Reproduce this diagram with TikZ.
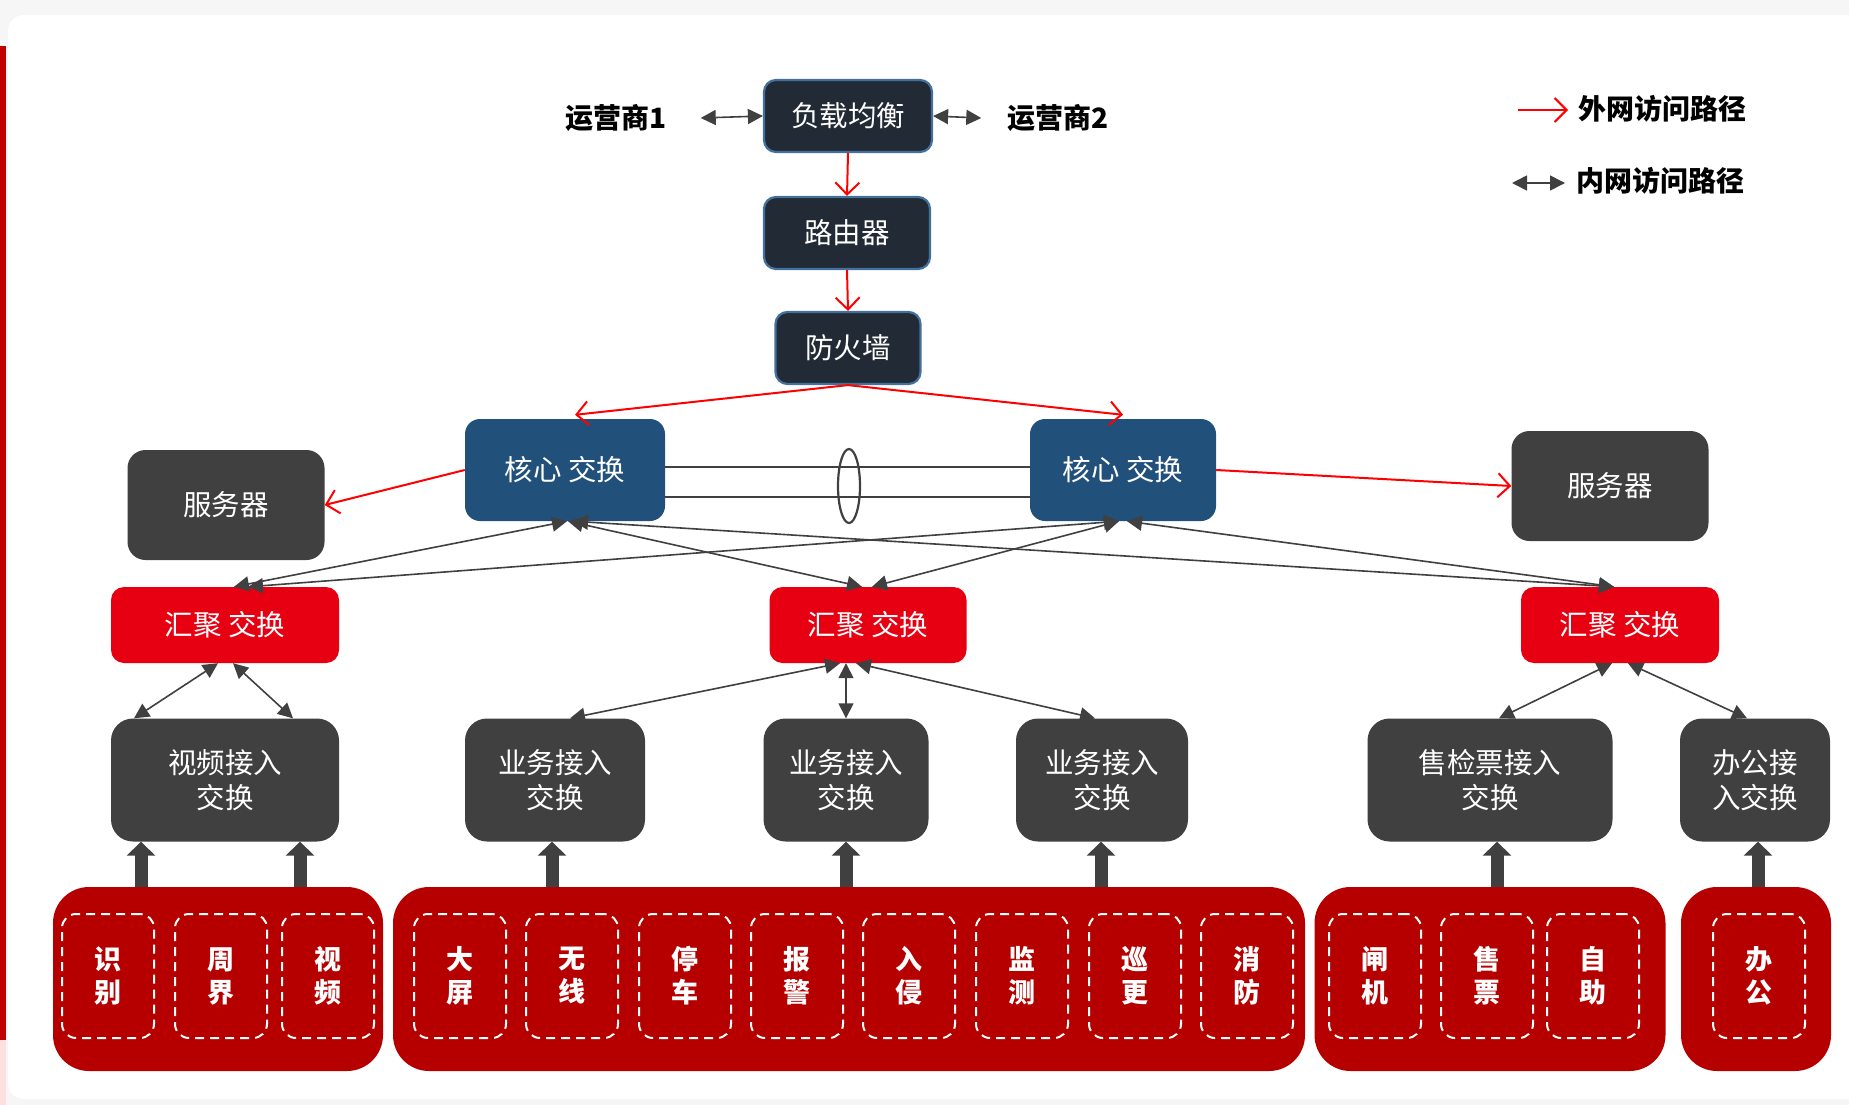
\documentclass[tikz,border=0pt]{standalone}
\usepackage{fontspec}
\setmainfont{Noto Sans CJK SC}
\newfontfamily\cjkfont{Noto Sans CJK SC}
\usetikzlibrary{arrows.meta,shapes.geometric,calc}
\definecolor{topfill}{RGB}{34,42,53}
\definecolor{topedge}{RGB}{65,113,156}
\definecolor{corefill}{RGB}{33,80,122}
\definecolor{srvfill}{RGB}{64,64,64}
\definecolor{aggfill}{RGB}{230,0,18}
\definecolor{grpfill}{RGB}{182,0,0}
\definecolor{lgray}{RGB}{64,64,64}
\definecolor{bgc}{RGB}{246,246,246}
\definecolor{redbar}{RGB}{192,0,0}
\definecolor{arrred}{RGB}{255,0,0}
\tikzset{
  txt/.style={text=white, inner sep=0pt, font=\cjkfont\fontsize{28.5pt}{35pt}\selectfont, align=center},
  topbox/.style={txt, draw=topedge, line width=2.2pt, fill=topfill, rounded corners=12pt, minimum height=72pt},
  corebox/.style={txt, fill=corefill, rounded corners=15pt, minimum height=102pt},
  srvbox/.style={txt, fill=srvfill, rounded corners=18pt, minimum height=110pt, minimum width=197pt},
  aggbox/.style={txt, fill=aggfill, rounded corners=13pt, minimum height=76pt},
  accbox/.style={txt, fill=srvfill, rounded corners=22pt, minimum height=123pt},
  grpbox/.style={fill=grpfill, rounded corners=36pt, minimum height=184pt, inner sep=0pt},
  dbox/.style={draw=white, line width=2pt, dash pattern=on 9pt off 6pt, rounded corners=14pt,
     minimum width=92pt, minimum height=124pt, text=white, inner sep=0pt, align=center,
     font=\cjkfont\bfseries\fontsize{27pt}{33pt}\selectfont},
  blabel/.style={text=black, inner sep=0pt, font=\cjkfont\bfseries\fontsize{28pt}{34pt}\selectfont},
  redarr/.style={draw=arrred, line width=2pt, -{Straight Barb[length=12pt,width=24pt,line width=2pt]}},
  grayarr/.style={draw=lgray, line width=1.6pt, {Triangle[length=15pt,width=15pt]}-{Triangle[length=15pt,width=15pt]}},
  thickarr/.style={draw=lgray, line width=13pt, -{Triangle[length=14pt,width=28pt]}},
  linkline/.style={draw=lgray, line width=2.2pt},
}
\begin{document}
\begin{tikzpicture}[x=1pt,y=-1pt]
\useasboundingbox (0,0) rectangle (1849,1105);
\fill[bgc] (0,0) rectangle (1849,1105);
\fill[white, rounded corners=16pt] (8,15) rectangle (1880,1099);
\fill[redbar] (0,46) rectangle (6,1040);
\fill[red!12] (0,1040) rectangle (6,1105);

% top chain
\node[topbox, minimum width=168pt] (lb) at (848,116) {负载均衡};
\node[topbox, minimum width=166pt] (rt) at (847,233) {路由器};
\node[topbox, minimum width=145pt] (fw) at (848,348) {防火墙};
\node[blabel] (isp1) at (616,118) {运营商1};
\node[blabel] (isp2) at (1058,118) {运营商2};
\draw[grayarr] ([xshift=34pt]isp1.east) -- (lb.west);
\draw[grayarr] (lb.east) -- ([xshift=-26pt]isp2.west);
\draw[redarr] (lb.south) -- (rt.north);
\draw[redarr] (rt.south) -- (fw.north);

% legend
\node[blabel, anchor=west] (leg1) at (1578,109) {外网访问路径};
\node[blabel, anchor=west] (leg2) at (1576,181) {内网访问路径};
\coordinate (leg1s) at (1518,110);
\coordinate (leg2s) at (1512,183);
\draw[redarr] (leg1s) -- ([xshift=-10pt,yshift=-1pt]leg1.west);
\draw[grayarr] (leg2s) -- ([xshift=-11pt,yshift=-2pt]leg2.west);

% core
\node[corebox, minimum width=200pt] (coreL) at (565,470) {核心 交换};
\node[corebox, minimum width=186pt] (coreR) at (1123,470) {核心 交换};
\draw[linkline] ([yshift=3pt]coreL.east) -- ([yshift=3pt]coreR.west);
\draw[linkline] ([yshift=-27pt]coreL.east) -- ([yshift=-27pt]coreR.west);
\node[draw=lgray, line width=2.2pt, ellipse, minimum width=22pt, minimum height=74pt, inner sep=0pt] (lag) at (849,486) {};

% servers
\node[srvbox] (srvL) at (226,505) {服务器};
\node[srvbox] (srvR) at (1610,486) {服务器};

\draw[redarr] (fw.south) -- ([xshift=10pt,yshift=4pt]coreL.north);
\draw[redarr] (fw.south) -- ([yshift=4pt]coreR.north);
\draw[redarr] (coreL.west) -- (srvL.east);
\draw[redarr] (coreR.east) -- (srvR.west);

% aggregation
\node[aggbox, minimum width=228pt] (aggL) at (225,625) {汇聚 交换};
\node[aggbox, minimum width=197pt] (aggM) at (868,625) {汇聚 交换};
\node[aggbox, minimum width=198pt] (aggR) at (1620,625) {汇聚 交换};

\draw[grayarr] ([xshift=2pt]coreL.south) -- ([xshift=9pt]aggL.north);
\draw[grayarr] ([xshift=3pt]coreL.south) -- ([xshift=-6pt]aggM.north);
\draw[grayarr] ([xshift=8pt]coreL.south) -- ([xshift=-6pt]aggR.north);
\draw[grayarr] ([xshift=-4pt]coreR.south) -- ([xshift=23pt]aggL.north);
\draw[grayarr] ([xshift=-4pt]coreR.south) -- ([xshift=4pt]aggM.north);
\draw[grayarr] ([xshift=4pt]coreR.south) -- ([xshift=-6pt]aggR.north);

% access
\node[accbox, minimum width=228pt] (accV) at (225,780) {视频接入\\交换};
\node[accbox, minimum width=180pt] (accB1) at (555,780) {业务接入\\交换};
\node[accbox, minimum width=165pt] (accB2) at (846,780) {业务接入\\交换};
\node[accbox, minimum width=172pt] (accB3) at (1102,780) {业务接入\\交换};
\node[accbox, minimum width=245pt] (accT) at (1490,780) {售检票接入\\交换};
\node[accbox, minimum width=150pt] (accO) at (1755,780) {办公接\\入交换};

\draw[grayarr] ([xshift=-7pt]aggL.south) -- ([xshift=-91pt]accV.north);
\draw[grayarr] ([xshift=8pt]aggL.south) -- ([xshift=68pt]accV.north);
\draw[grayarr] ([xshift=-28pt]aggM.south) -- ([xshift=15pt]accB1.north);
\draw[grayarr] ([xshift=-22pt]aggM.south) -- (accB2.north);
\draw[grayarr] ([xshift=-12pt]aggM.south) -- ([xshift=-7pt]accB3.north);
\draw[grayarr] ([xshift=-8pt]aggR.south) -- ([xshift=9pt]accT.north);
\draw[grayarr] ([xshift=8pt]aggR.south) -- ([xshift=-8pt]accO.north);

% groups
\node[grpbox, minimum width=330pt] (g1) at (218,979) {};
\node[grpbox, minimum width=912pt] (g2) at (849,979) {};
\node[grpbox, minimum width=351pt] (g3) at (1490,979) {};
\node[grpbox, minimum width=150pt] (g4) at (1756,979) {};

\draw[thickarr] ($(g1.north -| accV.south)+(-84,0)$) -- ($(accV.south)+(-84,0)$);
\draw[thickarr] ($(g1.north -| accV.south)+(75,0)$) -- ($(accV.south)+(75,0)$);
\draw[thickarr] ($(g2.north -| accB1.south)+(-3,0)$) -- ($(accB1.south)+(-3,0)$);
\draw[thickarr] (g2.north -| accB2.south) -- (accB2.south);
\draw[thickarr] ($(g2.north -| accB3.south)+(-1,0)$) -- ($(accB3.south)+(-1,0)$);
\draw[thickarr] ($(g3.north -| accT.south)+(7,0)$) -- ($(accT.south)+(7,0)$);
\draw[thickarr] ($(g4.north -| accO.south)+(3,0)$) -- ($(accO.south)+(3,0)$);

% dashed items
\node[dbox] (d1) at (108,976) {识\\别};
\node[dbox] (d2) at (221,976) {周\\界};
\node[dbox] (d3) at (328,976) {视\\频};
\node[dbox] (d4) at (460,976) {大\\屏};
\node[dbox] (d5) at (572,976) {无\\线};
\node[dbox] (d6) at (685,976) {停\\车};
\node[dbox] (d7) at (797,976) {报\\警};
\node[dbox] (d8) at (909,976) {入\\侵};
\node[dbox] (d9) at (1022,976) {监\\测};
\node[dbox] (d10) at (1135,976) {巡\\更};
\node[dbox] (d11) at (1247,976) {消\\防};
\node[dbox] (d12) at (1375,976) {闸\\机};
\node[dbox] (d13) at (1487,976) {售\\票};
\node[dbox] (d14) at (1593,976) {自\\助};
\node[dbox] (d15) at (1759,976) {办\\公};
\end{tikzpicture}
\end{document}
